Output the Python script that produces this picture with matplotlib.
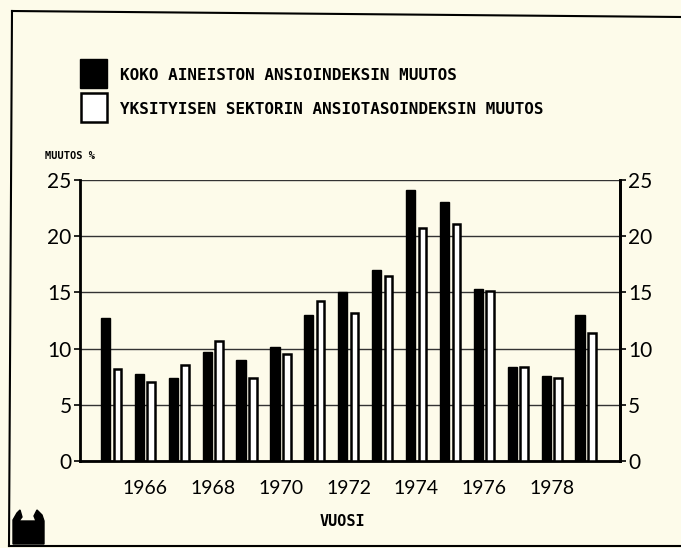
import numpy as np
import matplotlib.pyplot as plt
from matplotlib.patches import Polygon, Rectangle

years = [1965, 1966, 1967, 1968, 1969, 1970, 1971, 1972,
         1973, 1974, 1975, 1976, 1977, 1978, 1979]
koko = [12.7, 7.7, 7.4, 9.7, 9.0, 10.1, 13.0, 15.0,
        17.0, 24.1, 23.0, 15.3, 8.4, 7.6, 13.0]
yksityinen = [8.2, 7.0, 8.5, 10.7, 7.4, 9.5, 14.2, 13.2,
              16.5, 20.7, 21.1, 15.1, 8.4, 7.4, 11.4]
year_ticks = [1966, 1968, 1970, 1972, 1974, 1976, 1978]
y_ticks = [0, 5, 10, 15, 20, 25]

bg = '#fdfbea'
num_font = ['Lato', 'DejaVu Sans']
mono = 'DejaVu Sans Mono'

fig = plt.figure(figsize=(6.81, 5.48), dpi=100, facecolor=bg)
ax = fig.add_axes([0.1175, 0.1588, 0.7925, 0.5127], facecolor=bg)

x = np.array(years)
ax.bar(x - 0.17, koko, width=0.27, color='black', edgecolor='black', linewidth=1, zorder=3)
ax.bar(x + 0.18, yksityinen, width=0.22, color='white', edgecolor='black', linewidth=1.8, zorder=3)

ax.set_xlim(1964.08, 1980.0)
ax.set_ylim(0, 25)
ax.set_yticks(y_ticks)
ax.set_xticks(year_ticks)
ax.set_yticklabels([str(v) for v in y_ticks], fontsize=15, family=num_font)
ax.set_xticklabels([str(v) for v in year_ticks], fontsize=14, family=num_font)
ax.yaxis.grid(True, color='#333333', linewidth=1.0)
ax.set_axisbelow(True)
ax.tick_params(axis='x', length=0, pad=14)
ax.tick_params(axis='y', length=4, width=1.2, pad=2)
ax.spines['top'].set_visible(False)
for s in ['left', 'right', 'bottom']:
    ax.spines[s].set_linewidth(2)

ax2 = ax.twinx()
ax2.set_ylim(0, 25)
ax2.set_yticks(y_ticks)
ax2.set_yticklabels([str(v) for v in y_ticks], fontsize=15, family=num_font)
ax2.tick_params(axis='y', length=4, width=1.2, pad=2)
ax2.spines['top'].set_visible(False)
ax2.spines['right'].set_linewidth(2)

# legend
fig.patches.append(Rectangle((80 / 681, 1 - 88 / 548), 27 / 681, 29 / 548,
                             transform=fig.transFigure, facecolor='black', edgecolor='black'))
fig.patches.append(Rectangle((81 / 681, 1 - 122 / 548), 26 / 681, 29 / 548,
                             transform=fig.transFigure, facecolor='white', edgecolor='black', linewidth=1.8))
fig.text(120 / 681, 1 - 75 / 548, 'KOKO AINEISTON ANSIOINDEKSIN MUUTOS',
         family=mono, weight='bold', fontsize=11.5, va='center')
fig.text(120 / 681, 1 - 109 / 548, 'YKSITYISEN SEKTORIN ANSIOTASOINDEKSIN MUUTOS',
         family=mono, weight='bold', fontsize=11.5, va='center')

fig.text(45 / 681, 1 - 156 / 548, 'MUUTOS %', family=mono, weight='bold', fontsize=7.5, va='center')
fig.text(342 / 681, 1 - 522 / 548, 'VUOSI', family=mono, weight='bold', fontsize=11, va='center', ha='center')

# page frame
fig.add_artist(plt.Line2D([12 / 681, 681 / 681], [1 - 11 / 548, 1 - 17 / 548], color='black', lw=1.5))
fig.add_artist(plt.Line2D([12 / 681, 9 / 681], [1 - 11 / 548, 1 - 546 / 548], color='black', lw=1.5))
fig.add_artist(plt.Line2D([9 / 681, 681 / 681], [1 - 546 / 548, 1 - 546 / 548], color='black', lw=1.5))

# small logo
logo = [(13, 544), (13, 520), (17, 513), (20, 510), (22, 517), (19, 521),
        (36, 521), (34, 516), (37, 510), (42, 515), (44, 521), (44, 544)]
fig.patches.append(Polygon([(px / 681, 1 - py / 548) for px, py in logo], closed=True,
                           transform=fig.transFigure, facecolor='black', edgecolor='black'))

fig.savefig('out.png', dpi=100, facecolor=bg)
